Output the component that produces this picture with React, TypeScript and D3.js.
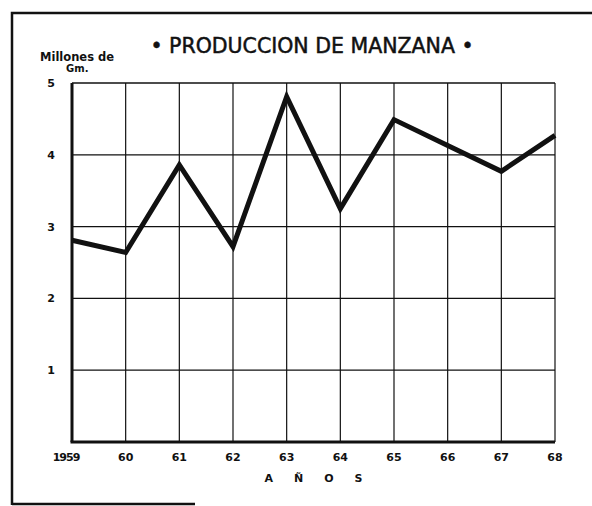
import React from "react";
import * as d3 from "d3";

// Producción de manzana, millones de Gm.
const years = [1959, 1960, 1961, 1962, 1963, 1964, 1965, 1966, 1967, 1968];
const yearLabels = ["1959", "60", "61", "62", "63", "64", "65", "66", "67", "68"];
const production = [2.81, 2.64, 3.86, 2.72, 4.81, 3.25, 4.49, 4.13, 3.77, 4.27];
const yTicks = [1, 2, 3, 4, 5];

const W = 592;
const H = 506;
const margin = { top: 83, right: 37, bottom: 64, left: 72 };
const font = "'DejaVu Sans', sans-serif";

export default function App() {
  const x = d3
    .scaleLinear()
    .domain([1959, 1968])
    .range([margin.left, W - margin.right]);
  const y = d3
    .scaleLinear()
    .domain([0, 5])
    .range([H - margin.bottom, margin.top]);

  const line = d3
    .line<number>()
    .x((_, i) => x(years[i]))
    .y((d) => y(d));

  const x0 = x.range()[0];
  const x1 = x.range()[1];
  const yBottom = y(0);
  const yTop = y(5);

  return (
    <svg
      width={W}
      height={H}
      style={{ position: "absolute", left: 0, top: 0, background: "#fff" }}
    >
      {/* frame */}
      <path d={`M12,505 L12,13 L592,13`} fill="none" stroke="#111" strokeWidth={2.5} />
      <line x1={12} x2={195} y1={504} y2={504} stroke="#111" strokeWidth={2.5} />

      {/* title */}
      <text
        x={312}
        y={53}
        textAnchor="middle"
        fontFamily={font}
        fontSize={20.5}
        stroke="#111"
        strokeWidth={0.5}
        fill="#111"
      >
        • PRODUCCION DE MANZANA •
      </text>

      {/* y unit */}
      <text x={40} y={61} fontFamily={font} fontWeight="bold" fontSize={11.5} fill="#111">
        Millones de
      </text>
      <text x={66} y={72} fontFamily={font} fontWeight="bold" fontSize={10} fill="#111">
        Gm.
      </text>

      {/* horizontal grid */}
      {yTicks.map((t) => (
        <line
          key={"h" + t}
          x1={x0}
          x2={x1}
          y1={y(t)}
          y2={y(t)}
          stroke="#111"
          strokeWidth={1.3}
        />
      ))}
      {/* vertical grid */}
      {years.slice(1).map((yr) => (
        <line
          key={"v" + yr}
          x1={x(yr)}
          x2={x(yr)}
          y1={yTop}
          y2={yBottom}
          stroke="#111"
          strokeWidth={1.2}
        />
      ))}

      {/* axes */}
      <line x1={x0} x2={x0} y1={yTop} y2={yBottom} stroke="#111" strokeWidth={3} />
      <line x1={x0 - 1.5} x2={x1} y1={yBottom} y2={yBottom} stroke="#111" strokeWidth={3} />

      {/* y labels */}
      {yTicks.map((t) => (
        <text
          key={"yl" + t}
          x={51}
          y={y(t) + 4}
          textAnchor="middle"
          fontFamily={font}
          fontWeight="bold"
          fontSize={11}
          fill="#111"
        >
          {t}
        </text>
      ))}

      {/* x labels */}
      {years.map((yr, i) => (
        <text
          key={"xl" + yr}
          x={i === 0 ? x(yr) - 6 : x(yr)}
          y={yBottom + 19}
          textAnchor="middle"
          fontFamily={font}
          fontWeight="bold"
          fontSize={11}
          letterSpacing={i === 0 ? -1 : 0}
          fill="#111"
        >
          {yearLabels[i]}
        </text>
      ))}

      {/* x title */}
      <text
        x={324}
        y={482}
        textAnchor="middle"
        fontFamily={font}
        fontWeight="bold"
        fontSize={11}
        letterSpacing={21}
        fill="#111"
      >
        AÑOS
      </text>

      {/* data */}
      <path
        d={line(production) || ""}
        fill="none"
        stroke="#111"
        strokeWidth={5}
        strokeLinejoin="miter"
      />
    </svg>
  );
}
